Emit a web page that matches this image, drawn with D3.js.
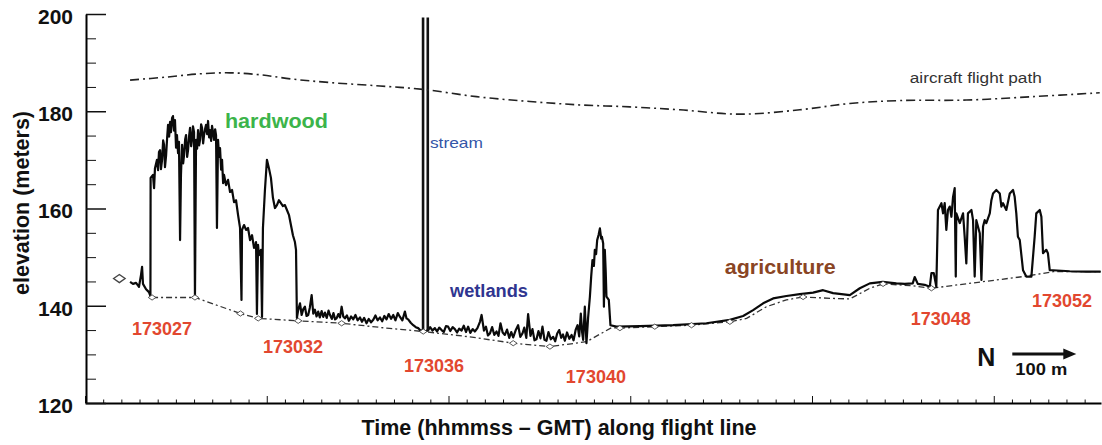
<!DOCTYPE html>
<html>
<head>
<meta charset="UTF-8">
<title>Lidar elevation profile</title>
<script src="https://d3js.org/d3.v7.min.js"></script>
<style>
  body { margin: 0; background: #fff; }
  text { font-family: "Liberation Sans", Arial, sans-serif; }
</style>
</head>
<body>
<svg width="1102" height="445"></svg>
<script>
// x = samples along the flight line (100 per major tick), y = elevation (m)
const profileHardwood = [
  [24.8,144.9],[26.4,144.5],[28.1,144.7],[29.7,143.9],[30.8,146.3],[31.4,148.0],[31.9,144.5],[33.6,143.4],[35.2,142.8],[36.0,142.0],
  [36.1,166.3],[37.4,166.9],[38.0,164.2],[38.5,168.3],[39.6,170.0],[40.2,167.9],[40.7,171.6],[41.3,172.0],[41.8,168.1],[42.4,170.0],
  [43.0,174.0],[43.5,173.1],[44.0,168.5],[44.6,170.8],[45.2,174.6],[45.7,177.2],[46.3,174.8],[46.8,177.8],[47.3,175.7],[47.9,178.6],
  [48.4,179.0],[49.0,176.0],[49.5,178.2],[50.1,172.5],[50.6,175.1],[51.2,171.4],[51.7,173.7],[52.3,153.5],[52.8,166.9],[53.4,173.1],
  [54.0,169.3],[54.5,171.0],[55.1,174.2],[55.6,175.1],[56.2,170.6],[56.7,172.0],[57.3,175.0],[57.8,176.6],[58.4,172.8],[58.9,174.1],
  [59.4,176.9],[60.0,175.7],[60.5,141.6],[61.1,174.1],[61.7,172.3],[62.2,176.1],[62.8,173.0],[63.3,174.1],[63.9,177.3],[64.4,176.6],
  [65.0,173.4],[65.5,175.1],[66.1,176.4],[66.6,177.2],[67.2,175.3],[67.7,178.0],[68.3,174.6],[68.8,176.1],[69.4,173.9],[69.9,177.0],
  [70.5,175.6],[71.0,174.1],[71.6,176.3],[72.1,175.1],[72.6,156.0],[73.2,174.1],[73.8,170.6],[74.3,172.4],[74.9,168.0],[75.4,170.0],
  [76.0,165.2],[76.5,166.9],[77.6,164.8],[78.7,165.9],[79.8,163.4],[80.9,163.8],[82.0,161.3],[83.1,161.7],[84.2,158.7],[85.3,156.0],
  [86.1,141.2],[86.4,155.6],[87.5,156.6],[88.6,155.6],[89.7,156.0],[90.8,153.5],[91.9,154.5],[93.0,151.9],[94.1,153.1],[94.6,138.3],
  [95.2,152.5],[95.7,150.4],[96.8,151.5],[97.4,137.7],[97.9,156.0],[99.0,163.8],[100.1,170.0],[101.2,168.3],[102.3,166.3],[103.4,162.2],
  [104.5,160.1],[105.6,160.7],[106.7,161.7],[107.8,161.1],[108.9,160.5],[110.0,160.7],[111.1,159.7],[112.2,158.7],[113.3,156.6],[114.4,154.5],
  [115.5,153.1],[116.1,151.5],[116.6,137.5]
];
const profileWetlands = [
  [117.3,139.1],[118.3,140.5],[119.2,138.1],[120.1,139.3],[121.0,139.8],[121.9,137.9],[122.8,138.1],[123.7,139.6],[124.7,142.2],[125.6,138.4],
  [126.5,139.2],[127.4,137.8],[128.3,138.8],[129.2,137.6],[130.2,138.9],[131.1,137.7],[132.0,138.6],[133.0,137.5],[134.0,139.0],[134.8,138.1],
  [135.8,137.3],[136.7,138.5],[137.6,137.2],[138.4,137.4],[139.4,138.3],[140.3,137.6],[141.2,139.8],[142.1,137.8],[143.0,137.4],[144.1,138.0],
  [145.2,136.9],[146.4,137.8],[147.6,137.2],[148.8,138.1],[150.0,137.0],[151.3,137.6],[152.4,136.7],[153.6,137.5],[154.9,136.4],[156.1,137.3],
  [157.4,136.6],[158.6,137.1],[159.8,138.0],[161.0,137.0],[162.3,137.6],[163.5,136.8],[164.7,137.9],[165.9,137.2],[167.1,138.3],[168.4,137.3],
  [169.6,138.1],[170.8,137.0],[172.1,138.5],[173.3,137.7],[174.6,137.0],[176.0,138.8],[176.9,137.4],[177.8,137.2],[179.2,136.5],[180.6,136.0],
  [182.0,135.6],[183.3,135.4],[184.3,135.0],[185.2,134.9],[186.5,134.7],[187.7,134.8],[188.8,135.0],[189.9,135.6],[191.2,134.9],[192.5,135.4],
  [193.7,134.7],[194.9,135.5],[196.2,135.0],[197.4,134.6],[198.6,135.8],[199.8,135.7],[201.0,134.8],[202.3,135.6],[203.5,135.2],[204.7,134.5],
  [205.9,135.3],[207.2,134.9],[208.4,135.9],[209.6,134.6],[210.8,135.7],[212.0,134.4],[213.3,135.2],[214.5,134.7],[215.9,135.4],[217.3,136.7],
  [218.2,138.1],[219.5,134.9],[220.6,135.7],[221.7,133.9],[222.8,134.3],[224.0,135.6],[225.2,134.0],[226.4,134.7],[227.5,133.8],[228.6,136.4],
  [229.8,134.5],[231.0,134.0],[232.2,135.1],[233.4,133.4],[234.5,134.6],[235.6,133.5],[236.9,134.9],[238.3,136.0],[239.5,133.6],[240.7,134.3],
  [241.7,135.5],[242.8,133.4],[243.8,138.3],[245.1,133.8],[246.2,135.2],[247.3,132.9],[248.4,133.1],[249.5,134.8],[250.6,133.3],[251.7,135.7],
  [252.8,133.0],[253.9,132.8],[255.0,134.6],[256.3,133.1],[257.6,133.6],[258.7,132.7],[259.8,134.3],[260.9,135.0],[262.0,133.4],[263.0,134.1],
  [264.0,132.8],[265.2,134.5],[266.5,133.2],[267.7,134.0],[268.8,132.9],[270.0,135.1],[271.0,136.0],[271.9,133.7],[272.8,138.4],[273.5,134.6],
  [274.1,133.0],[275.0,139.8],[275.9,132.3],[276.8,137.5],[277.8,141.9],[278.5,146.0],[279.2,149.4],[280.0,148.2],[280.5,151.5],[281.2,150.6],
  [281.8,153.5],[282.6,154.6],[283.3,155.9],[284.0,153.8],[284.4,154.2],[285.1,152.8],[285.5,139.8],[286.0,151.5],[286.5,147.0],[286.9,141.9],
  [288.2,141.2],[289.1,136.0]
];
const profileAgriculture = [
  [292.4,135.7],[305.3,135.8],[323.6,136.0],[341.9,136.4],[354.8,137.1],[362.1,137.9],[367.6,139.1],[373.1,140.5],[378.6,141.5],[385.9,142.0],
  [393.3,142.4],[400.6,142.7],[406.1,143.2],[411.6,142.6],[420.8,142.2],[426.3,143.6],[431.8,144.6],[438.9,144.9],[446.4,144.6],[451.0,144.5],
  [455.4,144.6],[456.5,145.9],[458.2,144.5],[462.0,144.3],[464.8,143.9]
];
const profileForest = [
  [465.7,146.7],[467.0,146.7],[468.4,143.9],[469.3,159.7],[471.2,161.1],[472.1,159.0],[473.0,161.1],[473.9,155.6],[474.8,159.7],[475.8,160.4],
  [476.7,158.3],[477.6,162.4],[478.5,164.2],[479.1,146.0],[479.4,159.0],[481.3,157.0],[483.1,159.0],[484.0,154.2],[484.9,148.7],[485.8,159.0],
  [487.7,159.7],[488.6,157.6],[489.5,146.0],[490.4,157.6],[492.3,154.9],[493.2,145.3],[494.1,156.3],[495.0,157.6],[495.9,157.0],[497.8,159.0],
  [498.7,161.7],[499.6,163.1],[501.4,163.8],[503.3,163.1],[504.2,160.4],[505.1,161.1],[506.9,159.7],[508.8,163.1],[510.6,163.8],[511.5,162.4],
  [512.4,159.0],[513.3,154.2],[514.3,153.5],[516.1,147.3],[517.9,146.0],[520.7,146.0],[522.5,154.2],[523.4,159.0],[525.3,159.7],[526.2,158.3],
  [527.1,150.8],[528.9,151.5],[529.8,150.8],[530.8,147.3],[532.6,147.3],[541.8,147.1],[550.0,147.0],[558.8,147.0]
];
const groundLine = [
  [36.9,141.7],[60.5,141.7],[85.5,138.4],[95.3,137.4],[117.3,136.9],[141.2,136.4],[165.9,135.4],[186.1,134.7],[211.8,133.6],[235.6,132.3],
  [255.8,131.6],[275.9,132.6],[289.7,135.5],[294.3,135.4],[313.5,135.7],[333.7,136.0],[354.8,136.7],[364.0,137.4],[374.9,139.8],[385.9,141.2],
  [395.1,141.8],[411.6,141.5],[420.8,141.4],[431.8,143.6],[439.1,144.5],[455.4,144.1],[465.7,143.6],[516.1,146.0],[532.6,147.0],[558.8,147.0]
];
const groundMarks = [
  [18.9,145.6],[36.9,141.7],[60.5,141.7],[85.5,138.4],[95.3,137.4],[117.3,136.9],[141.2,136.4],[186.1,134.7],[235.6,132.3],[255.8,131.6],
  [294.3,135.4],[313.5,135.7],[333.7,136.0],[354.8,136.7],[395.1,141.8],[439.1,144.5],[465.7,143.6]
];
const flightPath = [
  [24.8,186.4],[44.0,187.0],[63.3,187.7],[79.8,187.9],[96.3,187.5],[114.4,186.6],[134.8,185.9],[162.3,185.2],[185.9,184.5],[215.4,183.0],
  [244.8,182.0],[272.3,181.3],[299.8,180.9],[327.3,180.3],[360.3,179.4],[393.3,180.3],[420.8,181.6],[448.3,182.2],[484.9,182.3],[521.4,183.0],
  [558.3,183.8]
];
const streamX = [186.0, 188.6];
const streamElev = [134.7, 199.3];

const timeLabels = ["173027", "173032", "173036", "173040", "173048", "173052"];
const timeLabelX = [42.4, 114.4, 192.0, 281.1, 470.8, 537.6];
const timeLabelElev = [134.0, 130.2, 126.4, 124.1, 136.0, 139.8];

const coverNames = ["hardwood", "stream", "wetlands", "agriculture", "aircraft flight path"];
const coverX = [77.0, 189.8, 200.8, 352.0, 453.8];
const coverElev = [176.6, 172.5, 141.8, 146.5, 185.9];

const yMajor = [120, 140, 160, 180, 200];
const scaleBar = [510.2, 545.4];
const scaleBarElev = 130.1;

const svg = d3.select("svg");
const x = d3.scaleLinear().domain([0, 559]).range([85, 1101]);
const y = d3.scaleLinear().domain([120, 200]).range([403, 14]);

// axes, ticks pointing inward
const xMinor = d3.range(0, 560, 10).filter(v => v % 100 !== 0);
const xMajor = d3.range(0, 560, 100);
svg.append("g").attr("transform", "translate(0,403)")
  .call(d3.axisBottom(x).tickValues(xMinor).tickSize(-3.5).tickSizeOuter(0).tickFormat(""))
  .call(g => g.select(".domain").remove());
svg.append("g").attr("transform", "translate(0,403)")
  .call(d3.axisBottom(x).tickValues(xMajor).tickSize(-7).tickSizeOuter(0).tickFormat(""))
  .call(g => g.select(".domain").attr("stroke-width", 2));

const yMinor = d3.range(125, 200, 5).filter(v => !yMajor.includes(v));
svg.append("g").attr("transform", "translate(86,0)")
  .call(d3.axisLeft(y).tickValues(yMinor).tickSize(-10).tickSizeOuter(0).tickFormat(""))
  .call(g => g.select(".domain").remove());
svg.append("g").attr("transform", "translate(86,0)")
  .call(d3.axisLeft(y).tickValues(yMajor).tickSize(-20).tickSizeOuter(0).tickPadding(13))
  .call(g => g.select(".domain").attr("stroke-width", 2))
  .call(g => g.selectAll(".tick line").attr("stroke-width", 1.5))
  .call(g => g.selectAll(".tick text")
    .attr("dy", "0.45em")
    .attr("font-size", 21).attr("font-weight", "bold")
    .attr("font-family", "'Liberation Sans', Arial, sans-serif")
    .attr("fill", "#111"));
svg.selectAll(".tick line").attr("stroke", "#111");

svg.append("text")
  .attr("transform", "translate(29,203) rotate(-90)")
  .attr("text-anchor", "middle")
  .attr("font-size", 21.5).attr("font-weight", "bold").attr("fill", "#111")
  .text("elevation (meters)");

svg.append("text")
  .attr("x", 559).attr("y", 435)
  .attr("text-anchor", "middle")
  .attr("font-size", 22).attr("font-weight", "bold").attr("fill", "#111")
  .attr("textLength", 395).attr("lengthAdjust", "spacingAndGlyphs")
  .text("Time (hhmmss \u2013 GMT) along flight line");

const line = d3.line().x(d => x(d[0])).y(d => y(d[1]));

// ground surface
svg.append("path")
  .datum(groundLine)
  .attr("d", line)
  .attr("fill", "none").attr("stroke", "#333").attr("stroke-width", 1.3)
  .attr("stroke-dasharray", "6,3,2,3");

// canopy top profile
const profile = profileHardwood.concat(profileWetlands, profileAgriculture, profileForest);
svg.append("path")
  .datum(profile)
  .attr("d", line)
  .attr("fill", "none").attr("stroke", "#0a0a0a").attr("stroke-width", 2.2)
  .attr("stroke-linejoin", "round");

// stream
svg.selectAll(".stream")
  .data(streamX)
  .join("line")
  .attr("class", "stream")
  .attr("x1", d => x(d)).attr("x2", d => x(d))
  .attr("y1", y(streamElev[0])).attr("y2", y(streamElev[1]))
  .attr("stroke", "#111").attr("stroke-width", 2.6);

// surveyed ground points
svg.selectAll(".mark")
  .data(groundMarks)
  .join("path")
  .attr("class", "mark")
  .attr("transform", (d, i) => `translate(${x(d[0])},${y(d[1])}) scale(${i === 0 ? 1.15 : 0.75})`)
  .attr("d", "M-5,0L0,-3.5L5,0L0,3.5Z")
  .attr("fill", "#fff").attr("stroke", "#444").attr("stroke-width", 1.2);

// flight path
svg.append("path")
  .datum(flightPath)
  .attr("d", line.curve(d3.curveCatmullRom))
  .attr("fill", "none").attr("stroke", "#222").attr("stroke-width", 1.6)
  .attr("stroke-dasharray", "9,4,2,4");

// land cover labels
const coverColor = ["#3cb44a", "#3356a8", "#2f3590", "#8a4524", "#333"];
const coverSize = [21, 15, 18, 20, 14];
const coverWeight = ["bold", "normal", "bold", "bold", "normal"];
const coverFont = ["'Liberation Sans', Arial", "'DejaVu Sans', Verdana", "'Liberation Sans', Arial", "'Liberation Sans', Arial", "'DejaVu Sans', Verdana"];
const coverWidth = [103, 53, 78, 111, 132];
svg.selectAll(".cover")
  .data(coverNames)
  .join("text")
  .attr("class", "cover")
  .attr("x", (d, i) => x(coverX[i]))
  .attr("y", (d, i) => y(coverElev[i]))
  .attr("font-family", (d, i) => coverFont[i])
  .attr("font-size", (d, i) => coverSize[i])
  .attr("font-weight", (d, i) => coverWeight[i])
  .attr("fill", (d, i) => coverColor[i])
  .attr("textLength", (d, i) => coverWidth[i])
  .attr("lengthAdjust", "spacingAndGlyphs")
  .text(d => d);

// time stamps
svg.selectAll(".time")
  .data(timeLabels)
  .join("text")
  .attr("class", "time")
  .attr("x", (d, i) => x(timeLabelX[i]))
  .attr("y", (d, i) => y(timeLabelElev[i]))
  .attr("text-anchor", "middle")
  .attr("font-size", 18).attr("font-weight", "bold")
  .attr("fill", "#e2472f")
  .text(d => d);

// north arrow / scale bar
const ax0 = x(scaleBar[0]), ax1 = x(scaleBar[1]), ay = y(scaleBarElev);
svg.append("line")
  .attr("x1", ax0).attr("x2", ax1 - 10).attr("y1", ay).attr("y2", ay)
  .attr("stroke", "#111").attr("stroke-width", 3);
svg.append("path")
  .attr("d", `M${ax1},${ay}L${ax1 - 13},${ay - 5.5}L${ax1 - 13},${ay + 5.5}Z`)
  .attr("fill", "#111");
svg.append("text")
  .attr("x", ax0 - 17).attr("y", ay + 12.5)
  .attr("text-anchor", "end")
  .attr("font-size", 25).attr("font-weight", "bold").attr("fill", "#111")
  .text("N");
svg.append("text")
  .attr("x", ax0 + 3).attr("y", ay + 21)
  .attr("font-size", 16).attr("font-weight", "bold").attr("fill", "#111")
  .attr("textLength", 52).attr("lengthAdjust", "spacingAndGlyphs")
  .text("100 m");
</script>
</body>
</html>
